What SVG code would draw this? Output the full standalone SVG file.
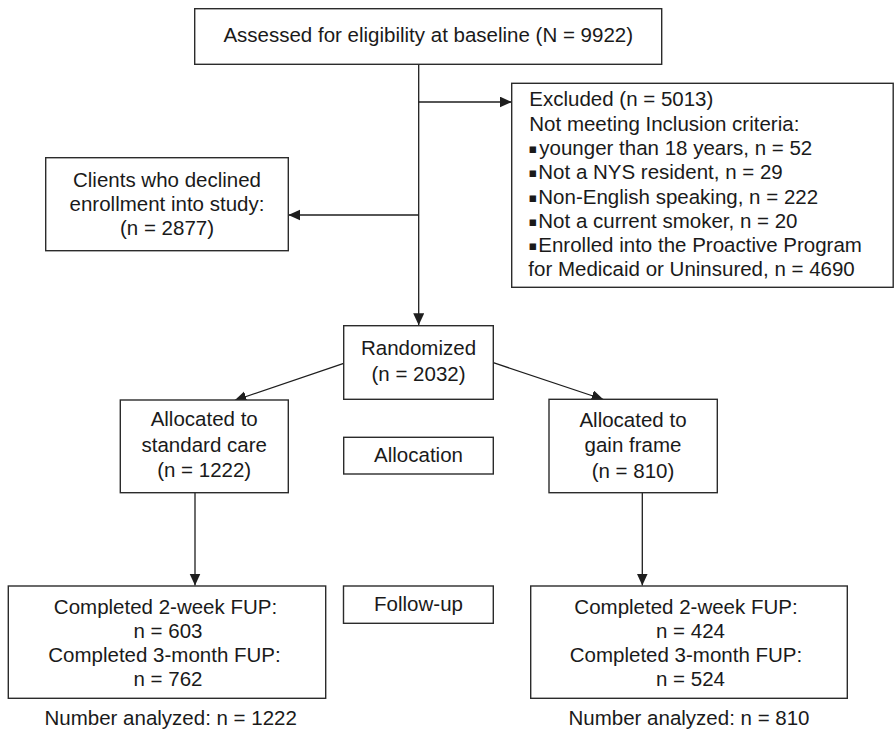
<svg xmlns="http://www.w3.org/2000/svg" width="894" height="730" viewBox="0 0 894 730">
<style>
  .box { fill: #ffffff; stroke: #2b2b2b; stroke-width: 1.4; }
  .t { font-family: "Liberation Sans", Arial, sans-serif; font-size: 20.5px; fill: #1a1a1a; }
  .c { text-anchor: middle; }
  .ln { stroke: #1e1e1e; stroke-width: 1.3; fill: none; }
  .bul { font-family: "DejaVu Sans", sans-serif; font-size: 13px; baseline-shift: 2.5px; }
</style>
<defs>
  <marker id="arr" markerUnits="userSpaceOnUse" markerWidth="13" markerHeight="12" refX="12" refY="5.5" orient="auto">
    <path d="M0,0 L12,5.5 L0,11 z" fill="#1e1e1e"/>
  </marker>
</defs>
<rect width="894" height="730" fill="#ffffff"/>

<g id="connectors">
  <line class="ln" x1="418.7" y1="64.3" x2="418.7" y2="325.3" marker-end="url(#arr)"/>
  <line class="ln" x1="418.7" y1="102" x2="511.7" y2="102" marker-end="url(#arr)"/>
  <line class="ln" x1="418.7" y1="215" x2="288.3" y2="215" marker-end="url(#arr)"/>
  <line class="ln" x1="343.7" y1="363.3" x2="234.5" y2="400.5" marker-end="url(#arr)"/>
  <line class="ln" x1="493.3" y1="362.7" x2="603.5" y2="399.5" marker-end="url(#arr)"/>
  <line class="ln" x1="195" y1="492.7" x2="195" y2="585.5" marker-end="url(#arr)"/>
  <line class="ln" x1="642.3" y1="492.7" x2="642.3" y2="585.5" marker-end="url(#arr)"/>
</g>

<g id="assessed">
  <rect class="box" x="194.7" y="8.7" width="467" height="55.6"/>
  <text class="t c" x="428.2" y="41.7">Assessed for eligibility at baseline (N = 9922)</text>
</g>

<g id="excluded">
  <rect class="box" x="511.7" y="83.3" width="381.5" height="204"/>
  <text class="t" x="529.3" y="106.3">Excluded (n = 5013)</text>
  <text class="t" x="529.3" y="130.6">Not meeting Inclusion criteria:</text>
  <text class="t" y="154.9"><tspan class="bul" x="528.5">▪</tspan><tspan x="539.3">younger than 18 years, n = 52</tspan></text>
  <text class="t" y="179.2"><tspan class="bul" x="528.5">▪</tspan><tspan x="538.3">Not a NYS resident, n = 29</tspan></text>
  <text class="t" y="203.5"><tspan class="bul" x="528.5">▪</tspan><tspan x="538.3">Non-English speaking, n = 222</tspan></text>
  <text class="t" y="227.8"><tspan class="bul" x="528.5">▪</tspan><tspan x="538.3">Not a current smoker, n = 20</tspan></text>
  <text class="t" y="252.1"><tspan class="bul" x="528.5">▪</tspan><tspan x="538.3">Enrolled into the Proactive Program</tspan></text>
  <text class="t" x="528.3" y="276.4">for Medicaid or Uninsured, n = 4690</text>
</g>

<g id="declined">
  <rect class="box" x="45.7" y="157.7" width="242.6" height="93"/>
  <text class="t c" x="167" y="186.7">Clients who declined</text>
  <text class="t c" x="167" y="210.5">enrollment into study:</text>
  <text class="t c" x="167" y="235">(n = 2877)</text>
</g>

<g id="randomized">
  <rect class="box" x="343.7" y="325.7" width="149.6" height="73.6"/>
  <text class="t c" x="418.5" y="355">Randomized</text>
  <text class="t c" x="418.5" y="380.7">(n = 2032)</text>
</g>

<g id="standard">
  <rect class="box" x="120.3" y="400" width="168" height="92.7"/>
  <text class="t c" x="204.2" y="426.3">Allocated to</text>
  <text class="t c" x="204.2" y="451.5">standard care</text>
  <text class="t c" x="204.2" y="477">(n = 1222)</text>
</g>

<g id="allocation">
  <rect class="box" x="343.7" y="437.3" width="149.6" height="36.7"/>
  <text class="t c" x="418.5" y="461.7">Allocation</text>
</g>

<g id="gain">
  <rect class="box" x="549" y="399.3" width="168.3" height="93.4"/>
  <text class="t c" x="633" y="426.7">Allocated to</text>
  <text class="t c" x="633" y="451.7">gain frame</text>
  <text class="t c" x="633" y="477.7">(n = 810)</text>
</g>

<g id="fup-standard">
  <rect class="box" x="8.3" y="586" width="317.4" height="112.3"/>
  <text class="t c" x="165.5" y="614">Completed 2-week FUP:</text>
  <text class="t c" x="168" y="637.8">n = 603</text>
  <text class="t c" x="164.5" y="661.7">Completed 3-month FUP:</text>
  <text class="t c" x="168" y="685.7">n = 762</text>
</g>

<g id="followup">
  <rect class="box" x="343.5" y="586" width="149.8" height="37.3"/>
  <text class="t c" x="418.5" y="610.5">Follow-up</text>
</g>

<g id="fup-gain">
  <rect class="box" x="530.7" y="586" width="316.6" height="112.3"/>
  <text class="t c" x="686" y="614">Completed 2-week FUP:</text>
  <text class="t c" x="690.5" y="637.8">n = 424</text>
  <text class="t c" x="686" y="661.7">Completed 3-month FUP:</text>
  <text class="t c" x="690.5" y="685.7">n = 524</text>
</g>

<g id="analyzed-standard">
  <text class="t c" x="170.7" y="725">Number analyzed: n = 1222</text>
</g>
<g id="analyzed-gain">
  <text class="t c" x="689" y="725">Number analyzed: n = 810</text>
</g>
</svg>
